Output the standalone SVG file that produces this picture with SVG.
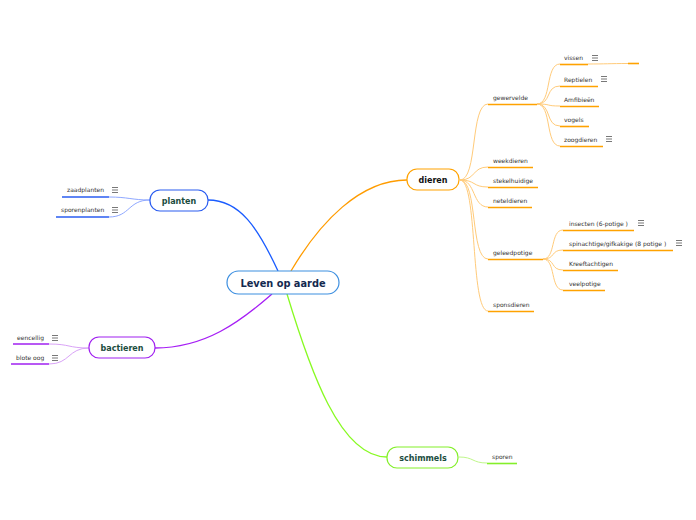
<svg xmlns="http://www.w3.org/2000/svg" width="696" height="520" viewBox="0 0 696 520">
<defs>
<style>
.t{font-family:"DejaVu Sans",Verdana,sans-serif;font-size:6px;fill:#333}
.nt{font-family:"DejaVu Sans",Verdana,sans-serif;font-size:8px;font-weight:bold;text-anchor:middle}
.c{fill:none;stroke-width:1}
.m{fill:none;stroke-width:1.3}
.ul{fill:none;stroke-width:1.6}
.o1{stroke:#ffcb7a}.o2{stroke:#ffa200}
.b1{stroke:#8fa8ff}.b2{stroke:#2a5cf0}
.p1{stroke:#d9a3f7}.p2{stroke:#a020f0}
.g1{stroke:#bff78a}.g2{stroke:#84ef2a}
.ic line{stroke:#555;stroke-width:0.8}
</style>
<symbol id="note" viewBox="0 0 6 6" overflow="visible">
<g class="ic"><line x1="0" y1="0.5" x2="6" y2="0.5"/><line x1="0" y1="3" x2="6" y2="3"/><line x1="0" y1="5.5" x2="6" y2="5.5"/></g>
</symbol>
</defs>
<rect width="696" height="520" fill="#fff"/>
<g id="connectors">
<path class="m" stroke="#1a5cff" d="M208,200 C240,200 258,228 278,271"/>
<path class="m" stroke="#ff9c00" d="M291,271 C320,222 360,180 407,180"/>
<path class="m" stroke="#a61ef5" d="M155,348 C205,348 240,322 272,294"/>
<path class="m" stroke="#88fa22" d="M287,294 C310,370 340,457 387,457"/>
<path class="c b1" d="M150,200 C132,200 128,197 109,197"/>
<path class="c b1" d="M150,200 C128,200 130,217 109,217"/>
<path class="c p1" d="M89,348 C68,348 70,344 49,344"/>
<path class="c p1" d="M89,348 C68,348 70,364 49,364"/>
<path class="c g1" d="M459,457 C474,457 472,463 487,463"/>
<path class="c o1" d="M460,180 C478,180 470,104 488,104"/>
<path class="c o1" d="M460,180 C476,180 472,167 488,167"/>
<path class="c o1" d="M460,180 C476,180 472,187 488,187"/>
<path class="c o1" d="M460,180 C476,180 472,207 488,207"/>
<path class="c o1" d="M460,180 C478,180 470,259 488,259"/>
<path class="c o1" d="M460,180 C478,180 470,311 488,311"/>
<path class="c o1" d="M537,104 C552,104 545,64 560,64"/>
<path class="c o1" d="M537,104 C552,104 545,86 560,86"/>
<path class="c o1" d="M537,104 C552,104 545,106 560,106"/>
<path class="c o1" d="M537,104 C552,104 545,126 560,126"/>
<path class="c o1" d="M537,104 C552,104 545,146 560,146"/>
<path class="c o1" d="M588,64 C605,64 610,63.5 628,63.5"/>
<path class="c o1" d="M543,259 C556,259 550,230 563,230"/>
<path class="c o1" d="M543,259 C556,259 550,250 563,250"/>
<path class="c o1" d="M543,259 C556,259 550,270 563,270"/>
<path class="c o1" d="M543,259 C556,259 550,290 563,290"/>
</g>
<g id="center">
<rect x="227" y="271" width="112" height="23" rx="11.5" fill="#fff" stroke="#3d8fe0" stroke-width="1.2"/>
<text x="283" y="286.5" class="nt" style="font-size:9.8px;fill:#13294f">Leven op aarde</text>
</g>
<g id="dieren">
<rect x="407" y="169" width="52" height="21" rx="10" fill="#fff" stroke="#ffa200" stroke-width="1.2"/>
<text x="433" y="182.5" class="nt" fill="#111">dieren</text>
</g>
<g id="planten">
<rect x="150" y="190" width="58" height="21" rx="10" fill="#fff" stroke="#2a5cf0" stroke-width="1.2"/>
<text x="179" y="203.5" class="nt" fill="#1b4d3e">planten</text>
</g>
<g id="bactieren">
<rect x="89" y="337" width="66" height="21" rx="10" fill="#fff" stroke="#a020f0" stroke-width="1.2"/>
<text x="122" y="350.5" class="nt" fill="#1b4d3e">bactieren</text>
</g>
<g id="schimmels">
<rect x="387" y="447" width="71" height="21" rx="10" fill="#fff" stroke="#84ef2a" stroke-width="1.2"/>
<text x="423" y="460.5" class="nt" fill="#1b4d3e">schimmels</text>
</g>
<g id="zaadplanten"><path class="ul b2" d="M62,197 H109"/><text class="t" x="67" y="191.5">zaadplanten</text><use href="#note" x="112" y="187" width="6" height="6"/></g>
<g id="sporenplanten"><path class="ul b2" d="M56,217 H109"/><text class="t" x="61" y="211.5">sporenplanten</text><use href="#note" x="112" y="207" width="6" height="6"/></g>
<g id="eencellig"><path class="ul p2" d="M13,344 H49"/><text class="t" x="17" y="339.5">eencellig</text><use href="#note" x="52" y="335" width="6" height="6"/></g>
<g id="blote-oog"><path class="ul p2" d="M11,364 H49"/><text class="t" x="16" y="359.5">blote oog</text><use href="#note" x="52" y="355" width="6" height="6"/></g>
<g id="sporen"><path class="ul g2" d="M487,463.5 H517"/><text class="t" x="492" y="458.5">sporen</text></g>
<g id="gewervelde"><path class="ul o2" d="M488,104.5 H537"/><text class="t" x="493" y="100">gewervelde</text></g>
<g id="weekdieren"><path class="ul o2" d="M488,167.5 H533"/><text class="t" x="493" y="163">weekdieren</text></g>
<g id="stekelhuidige"><path class="ul o2" d="M488,187.5 H538"/><text class="t" x="493" y="183">stekelhuidige</text></g>
<g id="neteldieren"><path class="ul o2" d="M488,207.5 H532"/><text class="t" x="493" y="203">neteldieren</text></g>
<g id="geleedpotige"><path class="ul o2" d="M488,259.5 H543"/><text class="t" x="493" y="255">geleedpotige</text></g>
<g id="sponsdieren"><path class="ul o2" d="M488,311.5 H534"/><text class="t" x="493" y="307">sponsdieren</text></g>
<g id="vissen"><path class="ul o2" d="M560,64.5 H588"/><text class="t" x="564" y="60">vissen</text><use href="#note" x="592" y="55" width="6" height="6"/></g>
<g id="leeg"><path class="ul o2" d="M628,63.5 H639"/></g>
<g id="reptielen"><path class="ul o2" d="M560,86.5 H598"/><text class="t" x="564" y="82">Reptielen</text><use href="#note" x="601" y="76" width="6" height="6"/></g>
<g id="amfibieen"><path class="ul o2" d="M560,106.5 H599"/><text class="t" x="564" y="102">Amfibieën</text></g>
<g id="vogels"><path class="ul o2" d="M560,126.5 H589"/><text class="t" x="564" y="122">vogels</text></g>
<g id="zoogdieren"><path class="ul o2" d="M560,146.5 H603"/><text class="t" x="564" y="142">zoogdieren</text><use href="#note" x="606" y="136" width="6" height="6"/></g>
<g id="insecten"><path class="ul o2" d="M563,230.5 H634"/><text class="t" x="569" y="225.5">insecten (6-potige )</text><use href="#note" x="638" y="220" width="6" height="6"/></g>
<g id="spinachtige"><path class="ul o2" d="M563,250.5 H673"/><text class="t" x="569" y="245.5">spinachtige/gifkakige (8 potige )</text><use href="#note" x="676" y="240" width="6" height="6"/></g>
<g id="kreeftachtigen"><path class="ul o2" d="M563,270.5 H618"/><text class="t" x="569" y="265.5">Kreeftachtigen</text></g>
<g id="veelpotige"><path class="ul o2" d="M563,290.5 H605"/><text class="t" x="569" y="285.5">veelpotige</text></g>
</svg>
